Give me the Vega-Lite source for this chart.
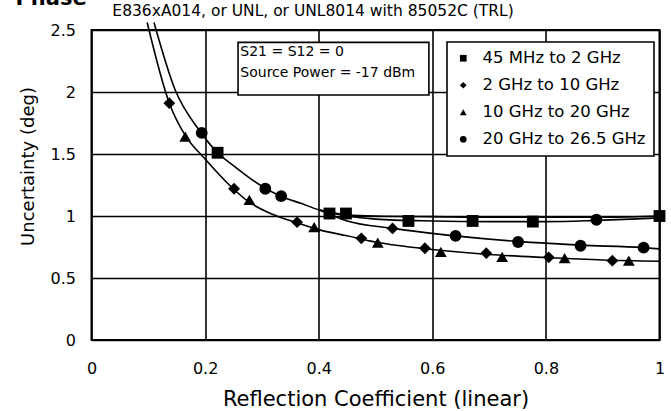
{
  "$schema": "https://vega.github.io/schema/vega-lite/v6.json",
  "width": 568,
  "height": 310,
  "autosize": {"type": "none"},
  "padding": {"left": 91.5, "top": 30, "right": 11.5, "bottom": 71},
  "background": "white",
  "datasets": {
    "points": [
      {"series": "45 MHz to 2 GHz", "x": 0.222, "y": 1.51},
      {"series": "45 MHz to 2 GHz", "x": 0.419, "y": 1.02},
      {"series": "45 MHz to 2 GHz", "x": 0.448, "y": 1.02},
      {"series": "45 MHz to 2 GHz", "x": 0.558, "y": 0.96},
      {"series": "45 MHz to 2 GHz", "x": 0.671, "y": 0.96},
      {"series": "45 MHz to 2 GHz", "x": 0.777, "y": 0.955},
      {"series": "45 MHz to 2 GHz", "x": 1.0, "y": 1.0},
      {"series": "2 GHz to 10 GHz", "x": 0.137, "y": 1.91},
      {"series": "2 GHz to 10 GHz", "x": 0.251, "y": 1.22},
      {"series": "2 GHz to 10 GHz", "x": 0.362, "y": 0.95},
      {"series": "2 GHz to 10 GHz", "x": 0.475, "y": 0.82},
      {"series": "2 GHz to 10 GHz", "x": 0.53, "y": 0.9},
      {"series": "2 GHz to 10 GHz", "x": 0.587, "y": 0.74},
      {"series": "2 GHz to 10 GHz", "x": 0.695, "y": 0.7},
      {"series": "2 GHz to 10 GHz", "x": 0.805, "y": 0.667},
      {"series": "2 GHz to 10 GHz", "x": 0.917, "y": 0.64},
      {"series": "10 GHz to 20 GHz", "x": 0.165, "y": 1.64},
      {"series": "10 GHz to 20 GHz", "x": 0.278, "y": 1.13},
      {"series": "10 GHz to 20 GHz", "x": 0.392, "y": 0.91},
      {"series": "10 GHz to 20 GHz", "x": 0.504, "y": 0.785},
      {"series": "10 GHz to 20 GHz", "x": 0.615, "y": 0.71},
      {"series": "10 GHz to 20 GHz", "x": 0.723, "y": 0.67},
      {"series": "10 GHz to 20 GHz", "x": 0.833, "y": 0.66},
      {"series": "10 GHz to 20 GHz", "x": 0.946, "y": 0.64},
      {"series": "20 GHz to 26.5 GHz", "x": 0.194, "y": 1.67},
      {"series": "20 GHz to 26.5 GHz", "x": 0.306, "y": 1.22},
      {"series": "20 GHz to 26.5 GHz", "x": 0.334, "y": 1.16},
      {"series": "20 GHz to 26.5 GHz", "x": 0.641, "y": 0.84},
      {"series": "20 GHz to 26.5 GHz", "x": 0.751, "y": 0.79},
      {"series": "20 GHz to 26.5 GHz", "x": 0.861, "y": 0.76},
      {"series": "20 GHz to 26.5 GHz", "x": 0.889, "y": 0.97},
      {"series": "20 GHz to 26.5 GHz", "x": 0.972, "y": 0.745}
    ],
    "curves": [
      {"curve": "A", "x": 0.11, "y": 2.56},
      {"curve": "A", "x": 0.147, "y": 2.02},
      {"curve": "A", "x": 0.19, "y": 1.69},
      {"curve": "A", "x": 0.22, "y": 1.52},
      {"curve": "A", "x": 0.256, "y": 1.385},
      {"curve": "A", "x": 0.3, "y": 1.24},
      {"curve": "A", "x": 0.333, "y": 1.16},
      {"curve": "A", "x": 0.37, "y": 1.1},
      {"curve": "A", "x": 0.4, "y": 1.05},
      {"curve": "A", "x": 0.45, "y": 1.01},
      {"curve": "A", "x": 0.5, "y": 1.0},
      {"curve": "A", "x": 0.6, "y": 0.995},
      {"curve": "A", "x": 0.7, "y": 0.99},
      {"curve": "A", "x": 0.8, "y": 0.99},
      {"curve": "A", "x": 0.9, "y": 0.99},
      {"curve": "A", "x": 1.0, "y": 1.0},
      {"curve": "B", "x": 0.4, "y": 1.05},
      {"curve": "B", "x": 0.45, "y": 1.0},
      {"curve": "B", "x": 0.5, "y": 0.975},
      {"curve": "B", "x": 0.6, "y": 0.96},
      {"curve": "B", "x": 0.7, "y": 0.955},
      {"curve": "B", "x": 0.8, "y": 0.955},
      {"curve": "B", "x": 0.889, "y": 0.965},
      {"curve": "B", "x": 0.95, "y": 0.975},
      {"curve": "B", "x": 1.0, "y": 0.985},
      {"curve": "C", "x": 0.4, "y": 1.05},
      {"curve": "C", "x": 0.45, "y": 0.96},
      {"curve": "C", "x": 0.53, "y": 0.9},
      {"curve": "C", "x": 0.64, "y": 0.84},
      {"curve": "C", "x": 0.75, "y": 0.795},
      {"curve": "C", "x": 0.86, "y": 0.765},
      {"curve": "C", "x": 0.97, "y": 0.745},
      {"curve": "C", "x": 1.0, "y": 0.735},
      {"curve": "D", "x": 0.098, "y": 2.56},
      {"curve": "D", "x": 0.137, "y": 1.91},
      {"curve": "D", "x": 0.165, "y": 1.65},
      {"curve": "D", "x": 0.2, "y": 1.46},
      {"curve": "D", "x": 0.245, "y": 1.24},
      {"curve": "D", "x": 0.275, "y": 1.12},
      {"curve": "D", "x": 0.315, "y": 1.02},
      {"curve": "D", "x": 0.355, "y": 0.955},
      {"curve": "D", "x": 0.4, "y": 0.89},
      {"curve": "D", "x": 0.45, "y": 0.84},
      {"curve": "D", "x": 0.5, "y": 0.79},
      {"curve": "D", "x": 0.6, "y": 0.73},
      {"curve": "D", "x": 0.7, "y": 0.69},
      {"curve": "D", "x": 0.8, "y": 0.665},
      {"curve": "D", "x": 0.9, "y": 0.645},
      {"curve": "D", "x": 1.0, "y": 0.635}
    ],
    "box": [{"x": 0.258, "x2": 0.594, "y": 1.976, "y2": 2.4}],
    "notes": [
      {"text": "S21 = S12 = 0", "x": 0.262, "y": 2.32},
      {"text": "Source Power = -17 dBm", "x": 0.262, "y": 2.15}
    ],
    "header": [{"text": "E836xA014, or UNL, or UNL8014 with 85052C (TRL)", "x": 0.39, "y": 2.65}],
    "corner": [{"text": "Phase", "x": -0.134, "y": 2.7}]
  },
  "encoding": {
    "x": {
      "field": "x", "type": "quantitative",
      "scale": {"domain": [0, 1], "nice": false, "zero": false},
      "axis": {"values": [0, 0.2, 0.4, 0.6, 0.8, 1], "format": "~g", "title": "Reflection Coefficient (linear)"}
    },
    "y": {
      "field": "y", "type": "quantitative",
      "scale": {"domain": [0, 2.5], "nice": false, "zero": false},
      "axis": {"values": [0, 0.5, 1, 1.5, 2, 2.5], "format": "~g", "title": "Uncertainty (deg)"}
    }
  },
  "layer": [
    {
      "data": {"name": "curves"},
      "mark": {"type": "line", "color": "black", "strokeWidth": 1.6, "interpolate": "monotone", "clip": false},
      "encoding": {"detail": {"field": "curve"}}
    },
    {
      "data": {"name": "points"},
      "mark": {"type": "point", "filled": true, "color": "black", "opacity": 1, "size": 140},
      "encoding": {
        "shape": {
          "field": "series", "type": "nominal",
          "scale": {
            "domain": ["45 MHz to 2 GHz", "2 GHz to 10 GHz", "10 GHz to 20 GHz", "20 GHz to 26.5 GHz"],
            "range": ["square", "diamond", "triangle-up", "circle"]
          },
          "legend": {"title": null}
        }
      }
    },
    {
      "data": {"name": "box"},
      "mark": {"type": "rect", "fill": "white", "stroke": "black", "strokeWidth": 1.6},
      "encoding": {"x2": {"field": "x2"}, "y2": {"field": "y2"}}
    },
    {
      "data": {"name": "notes"},
      "mark": {"type": "text", "align": "left", "baseline": "middle", "font": "DejaVu Sans", "fontSize": 14, "color": "black"},
      "encoding": {"text": {"field": "text"}}
    },
    {
      "data": {"name": "header"},
      "mark": {"type": "text", "align": "center", "baseline": "middle", "font": "DejaVu Sans", "fontSize": 15.5, "color": "black"},
      "encoding": {"text": {"field": "text"}}
    },
    {
      "data": {"name": "corner"},
      "mark": {"type": "text", "align": "left", "baseline": "alphabetic", "font": "DejaVu Sans", "fontSize": 21, "fontWeight": "bold", "color": "black"},
      "encoding": {"text": {"field": "text"}}
    }
  ],
  "config": {
    "font": "DejaVu Sans",
    "view": {"stroke": "black", "strokeWidth": 2},
    "axis": {
      "grid": true, "gridColor": "black", "gridWidth": 1.6, "gridOpacity": 1,
      "ticks": false, "tickSize": 0, "domain": false,
      "labelFont": "DejaVu Sans", "labelFontSize": 16, "labelColor": "black",
      "labelFlush": false, "labelOverlap": false,
      "titleFont": "DejaVu Sans", "titleFontWeight": "normal", "titleColor": "black"
    },
    "axisX": {"labelPadding": 20, "titleFontSize": 21, "titleY": 59, "titleBaseline": "middle"},
    "axisY": {"labelPadding": 16, "titleFontSize": 18, "titleX": -63, "titleY": 136, "titleAngle": 270, "titleAlign": "center", "titleBaseline": "middle"},
    "legend": {
      "orient": "none", "legendX": 355.5, "legendY": 12,
      "strokeColor": "black", "strokeWidth": 1.6, "fillColor": "white",
      "padding": 8, "rowPadding": 10, "symbolSize": 45, "symbolFillColor": "black", "symbolStrokeWidth": 0,
      "labelFont": "DejaVu Sans", "labelFontSize": 16.5, "labelColor": "black", "labelOffset": 11, "labelLimit": 300
    }
  }
}
